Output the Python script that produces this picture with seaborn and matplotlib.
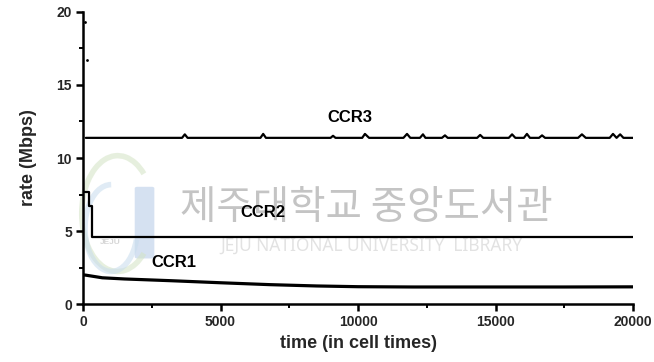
import matplotlib
matplotlib.use("Agg")
import matplotlib.pyplot as plt
from matplotlib.patches import Arc, FancyBboxPatch
from matplotlib.ticker import MultipleLocator
import pandas as pd
import seaborn as sns

# ---- data: per-flow allowed cell rate over time ----
ccr1_t = [0, 100, 700, 1500, 3200, 5000, 6800, 8500, 10000, 12000, 15000, 17500, 20000]
ccr1_v = [2.0, 1.98, 1.80, 1.72, 1.60, 1.46, 1.33, 1.24, 1.19, 1.17, 1.17, 1.17, 1.18]

ccr2_t = [0, 220, 220, 330, 330, 20000]
ccr2_v = [7.7, 7.7, 6.7, 6.7, 4.6, 4.6]

ccr3_t = [100, 3600, 3700, 3800, 6450, 6550, 6650, 9000, 9090, 9180,
          10150, 10250, 10400, 11650, 11780, 11900, 12250, 12360, 12450,
          13050, 13160, 13260, 14330, 14440, 14550, 15480, 15600, 15720,
          16030, 16140, 16250, 16580, 16690, 16800, 18000, 18140, 18280,
          19150, 19270, 19400, 19530, 19650, 20000]
ccr3_v = [11.38, 11.38, 11.62, 11.38, 11.38, 11.65, 11.38, 11.38, 11.52, 11.38,
          11.38, 11.65, 11.38, 11.38, 11.65, 11.38, 11.38, 11.62, 11.38,
          11.38, 11.55, 11.38, 11.38, 11.58, 11.38, 11.38, 11.62, 11.38,
          11.38, 11.65, 11.38, 11.38, 11.55, 11.38, 11.38, 11.62, 11.38,
          11.38, 11.65, 11.38, 11.62, 11.38, 11.38]

# start-up transient samples of CCR3
ccr3_start_t = [60, 150]
ccr3_start_v = [19.3, 16.7]

flows = ["CCR1", "CCR2", "CCR3"]
label_pos = {"CCR1": (3300, 2.85), "CCR2": (6550, 6.3), "CCR3": (9700, 12.75)}

x_ticks = [0, 5000, 10000, 15000, 20000]
y_ticks = [0, 5, 10, 15, 20]

frames = []
for name, t, v in [("CCR1", ccr1_t, ccr1_v), ("CCR2", ccr2_t, ccr2_v), ("CCR3", ccr3_t, ccr3_v)]:
    frames.append(pd.DataFrame({"time": t, "rate": v, "flow": name}))
df = pd.concat(frames, ignore_index=True)

sns.set_style("ticks")
plt.rcParams["font.family"] = ["Liberation Sans", "DejaVu Sans"]
plt.rcParams["font.weight"] = "bold"

fig = plt.figure(figsize=(6.54, 3.62), dpi=100)
fig.patch.set_facecolor("white")
ax = fig.add_axes([0.127, 0.160, 0.841, 0.807])
ax.set_facecolor("white")

# library watermark behind the plot
wm_tr = fig.transFigure
ax.add_patch(FancyBboxPatch((0.210, 0.29), 0.022, 0.19, boxstyle="round,pad=0.004",
                            transform=wm_tr, facecolor="#b9cde8", edgecolor="none",
                            alpha=0.6, zorder=0.1, clip_on=False))
ax.add_patch(Arc((0.180, 0.41), 0.11, 0.32, theta1=70, theta2=290, transform=wm_tr,
                 color="#d3e3c4", lw=4, alpha=0.55, zorder=0.1, clip_on=False))
ax.add_patch(Arc((0.170, 0.37), 0.08, 0.24, theta1=90, theta2=320, transform=wm_tr,
                 color="#c7dced", lw=4, alpha=0.55, zorder=0.1, clip_on=False))
ax.text(0.168, 0.33, "JEJU", transform=wm_tr, ha="center", va="center",
        fontsize=6, color="#d6d6d6", zorder=0.2)
ax.text(0.560, 0.425, "제주대학교 중앙도서관", transform=wm_tr, ha="center", va="center",
        fontsize=28.5, color="#c4c4c4", family=["Noto Sans CJK KR"], fontweight="normal",
        zorder=0.2)
ax.text(0.568, 0.322, "JEJU NATIONAL UNIVERSITY  LIBRARY", transform=wm_tr, ha="center",
        va="center", fontsize=12.5, color="#e2e2e2", family=["Noto Sans"],
        fontweight="normal", zorder=0.2)

for name in flows:
    sub = df[df["flow"] == name]
    sns.lineplot(data=sub, x="time", y="rate", estimator=None, sort=False,
                 color="black", lw=2.3 if name == "CCR1" else 1.6, ax=ax, zorder=3)
sns.scatterplot(x=ccr3_start_t, y=ccr3_start_v, color="black", s=4, ax=ax,
                zorder=3, linewidth=0)

for name, (lx, ly) in label_pos.items():
    ax.text(lx, ly, name, ha="center", va="center", fontsize=12, fontweight="bold",
            color="black", zorder=4)

ax.set_xlim(0, 20000)
ax.set_ylim(0, 20)
ax.set_xticks(x_ticks)
ax.set_yticks(y_ticks)
ax.xaxis.set_minor_locator(MultipleLocator(2500))
ax.yaxis.set_minor_locator(MultipleLocator(2.5))
ax.tick_params(axis="both", which="major", direction="out", length=5, width=1.8,
               labelsize=10, pad=3, color="black")
ax.tick_params(axis="both", which="minor", direction="out", length=3, width=1.4,
               color="black")
for lab in ax.get_xticklabels() + ax.get_yticklabels():
    lab.set_fontweight("bold")

for side in ["top", "right"]:
    ax.spines[side].set_visible(False)
for side in ["left", "bottom"]:
    ax.spines[side].set_linewidth(1.8)
    ax.spines[side].set_color("black")

ax.set_xlabel("time (in cell times)", fontsize=13, fontweight="bold", labelpad=4)
ax.set_ylabel("rate (Mbps)", fontsize=13, fontweight="bold", labelpad=14)

fig.savefig("out.png", dpi=100, facecolor="white")
